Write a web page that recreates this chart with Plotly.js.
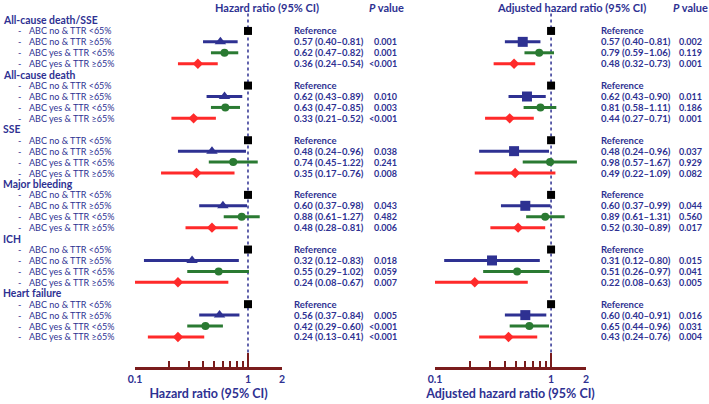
<!DOCTYPE html>
<html>
<head>
<meta charset="utf-8">
<script src="https://cdn.plot.ly/plotly-3.0.1.min.js"></script>
<style>body{margin:0;background:#fff}</style>
</head>
<body>
<div id="chart" style="width:709px;height:404px"></div>
<script>
// outcomes and subgroups
var outcomes = ["All-cause death/SSE", "All-cause death", "SSE", "Major bleeding", "ICH", "Heart failure"];
var subgroups = ["ABC no & TTR <65%", "ABC no & TTR \u226565%", "ABC yes & TTR <65%", "ABC yes & TTR \u226565%"];

// unadjusted hazard ratios (left panel)
var hrNoHi = [0.57, 0.62, 0.48, 0.60, 0.32, 0.56];
var loNoHi = [0.40, 0.43, 0.24, 0.37, 0.12, 0.37];
var upNoHi = [0.81, 0.89, 0.96, 0.98, 0.83, 0.84];
var pNoHi = ["0.001", "0.010", "0.038", "0.043", "0.018", "0.005"];

var hrYesLo = [0.62, 0.63, 0.74, 0.88, 0.55, 0.42];
var loYesLo = [0.47, 0.47, 0.45, 0.61, 0.29, 0.29];
var upYesLo = [0.82, 0.85, 1.22, 1.27, 1.02, 0.60];
var pYesLo = ["0.001", "0.003", "0.241", "0.482", "0.059", "<0.001"];

var hrYesHi = [0.36, 0.33, 0.35, 0.48, 0.24, 0.24];
var loYesHi = [0.24, 0.21, 0.17, 0.28, 0.08, 0.13];
var upYesHi = [0.54, 0.52, 0.76, 0.81, 0.67, 0.41];
var pYesHi = ["<0.001", "<0.001", "0.008", "0.006", "0.007", "<0.001"];

// adjusted hazard ratios (right panel)
var ahrNoHi = [0.57, 0.62, 0.48, 0.60, 0.31, 0.60];
var aloNoHi = [0.40, 0.43, 0.24, 0.37, 0.12, 0.40];
var aupNoHi = [0.81, 0.90, 0.96, 0.99, 0.80, 0.91];
var apNoHi = ["0.002", "0.011", "0.037", "0.044", "0.015", "0.016"];

var ahrYesLo = [0.79, 0.81, 0.98, 0.89, 0.51, 0.65];
var aloYesLo = [0.59, 0.58, 0.57, 0.61, 0.26, 0.44];
var aupYesLo = [1.06, 1.11, 1.67, 1.31, 0.97, 0.96];
var apYesLo = ["0.119", "0.186", "0.929", "0.560", "0.041", "0.031"];

var ahrYesHi = [0.48, 0.44, 0.49, 0.52, 0.22, 0.43];
var aloYesHi = [0.32, 0.27, 0.22, 0.30, 0.08, 0.24];
var aupYesHi = [0.73, 0.71, 1.09, 0.89, 0.63, 0.76];
var apYesHi = ["0.001", "0.001", "0.082", "0.017", "0.005", "0.004"];

var tickVals = [0.1, 1, 2];
var tickText = ["0.1", "1", "2"];
var minorVals = [0.2, 0.3, 0.4, 0.5, 0.6, 0.7, 0.8, 0.9];

var W = 709, H = 404;
var rowTop = 20, rowStep = 10.93, axisPx = 368;
var navy = "#2E3192", green = "#2A7A32", red = "#FF2A2A", black = "#000000", maroon = "#7A1C1C";
var FONT = "Lato, sans-serif";

var axisRow = (axisPx - rowTop) / rowStep;
function rowOf(g, k) { return g * 5 + 1 + k; }
function fmt(v) { return v.toFixed(2); }

var panels = [
  {xa: "x", sets: [[hrNoHi, loNoHi, upNoHi, pNoHi], [hrYesLo, loYesLo, upYesLo, pYesLo], [hrYesHi, loYesHi, upYesHi, pYesHi]],
   sym: "triangle-up", hrX: 292, pX: 399},
  {xa: "x2", sets: [[ahrNoHi, aloNoHi, aupNoHi, apNoHi], [ahrYesLo, aloYesLo, aupYesLo, apYesLo], [ahrYesHi, aloYesHi, aupYesHi, apYesHi]],
   sym: "square", hrX: 599, pX: 704}
];
var colors = [navy, green, red];

var traces = [];
var annotations = [];

panels.forEach(function (pn) {
  // line of no effect
  traces.push({x: [1, 1], y: [-0.6, axisRow], xaxis: pn.xa, yaxis: "y", mode: "lines",
    line: {color: navy, width: 1.5, dash: "dot"}, hoverinfo: "skip", showlegend: false});
  // reference markers
  traces.push({x: outcomes.map(function () { return 1; }), y: outcomes.map(function (o, g) { return rowOf(g, 0); }),
    xaxis: pn.xa, yaxis: "y", mode: "markers", cliponaxis: false,
    marker: {symbol: "square", size: 8, color: black}, showlegend: false});
  pn.sets.forEach(function (s, j) {
    var est = s[0], lo = s[1], up = s[2];
    traces.push({
      x: est, y: est.map(function (v, g) { return rowOf(g, j + 1); }),
      xaxis: pn.xa, yaxis: "y", mode: "markers", cliponaxis: false,
      marker: {symbol: j === 0 ? pn.sym : (j === 1 ? "circle" : "diamond"), size: j === 0 ? 10 : 8, color: colors[j]},
      error_x: {type: "data", symmetric: false,
        array: est.map(function (v, i) { return up[i] - v; }),
        arrayminus: est.map(function (v, i) { return v - lo[i]; }),
        color: colors[j], thickness: 3, width: 0},
      showlegend: false
    });
  });
  // text columns
  outcomes.forEach(function (o, g) {
    annotations.push({xref: "paper", yref: "y", x: pn.hrX / W, y: rowOf(g, 0), xanchor: "left", yanchor: "middle",
      text: "Reference", showarrow: false, font: {family: FONT, size: 9.5, color: navy, weight: "bold"}});
    pn.sets.forEach(function (s, j) {
      annotations.push({xref: "paper", yref: "y", x: pn.hrX / W, y: rowOf(g, j + 1), xanchor: "left", yanchor: "middle",
        text: fmt(s[0][g]) + " (" + fmt(s[1][g]) + "\u2013" + fmt(s[2][g]) + ")", showarrow: false,
        font: {family: FONT, size: 9.5, color: navy, weight: "bold"}});
      annotations.push({xref: "paper", yref: "y", x: pn.pX / W, y: rowOf(g, j + 1), xanchor: "right", yanchor: "middle",
        text: s[3][g], showarrow: false, font: {family: FONT, size: 9, color: navy, weight: "bold"}});
    });
  });
});

// row labels
outcomes.forEach(function (o, g) {
  annotations.push({xref: "paper", yref: "y", x: 1 / W, y: g * 5, xanchor: "left", yanchor: "middle",
    text: o, showarrow: false, font: {family: FONT, size: 10.4, color: navy, weight: "bold"}});
  subgroups.forEach(function (sg, k) {
    annotations.push({xref: "paper", yref: "y", x: 16 / W, y: rowOf(g, k), xanchor: "left", yanchor: "middle",
      text: "-", showarrow: false, font: {family: FONT, size: 9, color: navy}});
    annotations.push({xref: "paper", yref: "y", x: 27 / W, y: rowOf(g, k), xanchor: "left", yanchor: "middle",
      text: sg, showarrow: false, font: {family: FONT, size: 9, color: navy}});
  });
});

// column headers
[[267, "Hazard ratio (95% CI)"], [386, "<i>P</i> value"], [571, "Adjusted hazard ratio (95% CI)"], [690, "<i>P</i> value"]].forEach(function (h) {
  annotations.push({xref: "paper", yref: "paper", x: h[0] / W, y: 1 - 7 / H, xanchor: "center", yanchor: "middle",
    text: h[1], showarrow: false, font: {family: FONT, size: 11, color: navy, weight: "bold"}});
});

function xAxis(l, r, title) {
  return {
    type: "log", range: [-1, Math.log10(2)], domain: [l / W, r / W], anchor: "free", position: 1 - axisPx / H,
    showline: true, linecolor: maroon, linewidth: 3, showgrid: false, zeroline: false,
    ticks: "inside", ticklen: 14, tickwidth: 2, tickcolor: maroon,
    tickmode: "array", tickvals: tickVals, ticktext: tickText,
    tickfont: {family: FONT, size: 10.5, color: navy, weight: "bold"},
    minor: {tickmode: "array", tickvals: minorVals, ticks: "inside", ticklen: 6, tickwidth: 2, tickcolor: maroon, showgrid: false},
    title: {text: title, standoff: 5, font: {family: FONT, size: 12.5, color: navy, weight: "bold"}}
  };
}

var layout = {
  width: W, height: H,
  margin: {l: 0, r: 0, t: 0, b: 0},
  paper_bgcolor: "#fff", plot_bgcolor: "rgba(0,0,0,0)",
  showlegend: false,
  xaxis: xAxis(135, 282, "Hazard ratio (95% CI)"),
  xaxis2: xAxis(435, 586, "Adjusted hazard ratio (95% CI)"),
  yaxis: {domain: [0, 1], range: [(H - rowTop) / rowStep, -rowTop / rowStep], visible: false, fixedrange: true},
  annotations: annotations
};

Plotly.newPlot("chart", traces, layout, {displayModeBar: false, staticPlot: true});
</script>
</body>
</html>
